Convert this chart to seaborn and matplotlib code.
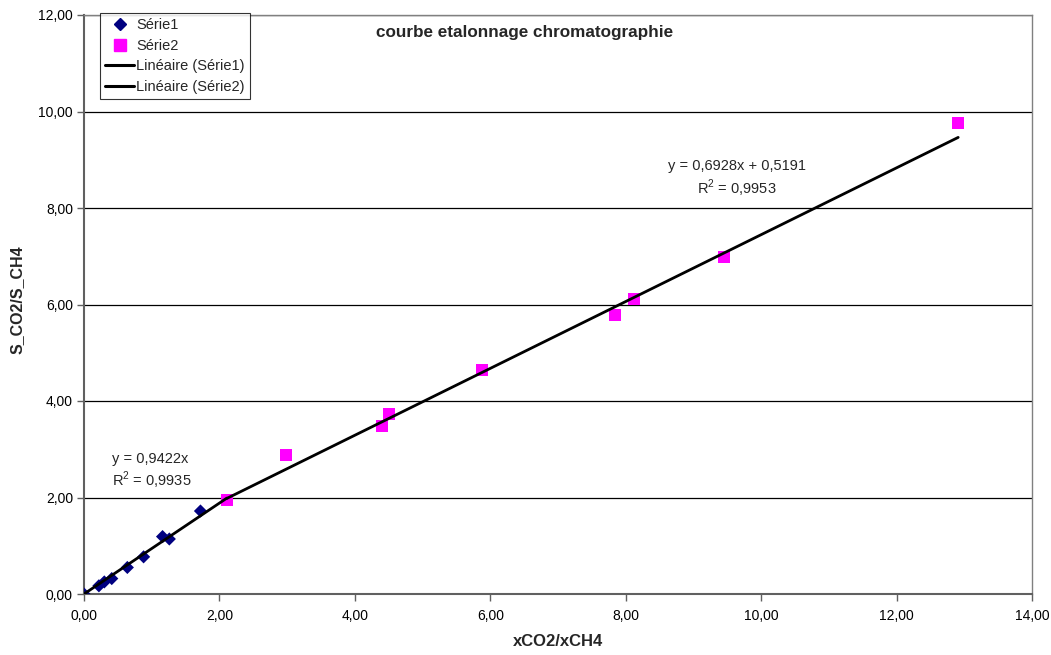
import numpy as np
import pandas as pd
import matplotlib
matplotlib.use("Agg")
import matplotlib.pyplot as plt
import seaborn as sns
from matplotlib.lines import Line2D
from matplotlib.ticker import FuncFormatter, MultipleLocator

# ---- data ----
serie1_x = [0.00, 0.22, 0.30, 0.41, 0.64, 0.88, 1.16, 1.26, 1.72]
serie1_y = [0.00, 0.17, 0.25, 0.32, 0.55, 0.77, 1.19, 1.14, 1.72]
serie2_x = [2.11, 2.98, 4.40, 4.50, 5.88, 7.84, 8.12, 9.45, 12.91]
serie2_y = [1.95, 2.88, 3.48, 3.73, 4.64, 5.78, 6.11, 6.98, 9.76]
fit1_slope, fit1_icpt = 0.9422, 0.0
fit2_slope, fit2_icpt = 0.6928, 0.5191
eq1_text = "y = 0,9422x\nR$^2$ = 0,9935"
eq2_text = "y = 0,6928x + 0,5191\nR$^2$ = 0,9953"
title = "courbe etalonnage chromatographie"
xlabel = "xCO2/xCH4"
ylabel = "S_CO2/S_CH4"
series_names = ["Série1", "Série2", "Linéaire (Série1)", "Linéaire (Série2)"]

sns.set_style("white")
plt.rcParams['font.family'] = ['Liberation Sans', 'DejaVu Sans']
plt.rcParams['mathtext.fontset'] = 'custom'
plt.rcParams['mathtext.rm'] = 'Liberation Sans'

fig = plt.figure(figsize=(10.51, 6.55), dpi=100)
ax = fig.add_axes([84/1051, 1-594/655, (1032-84)/1051, (594-15)/655])

df1 = pd.DataFrame({"x": serie1_x, "y": serie1_y})
df2 = pd.DataFrame({"x": serie2_x, "y": serie2_y})

# trend lines (Série1 trend line reaches the start of Série2)
x1 = np.array([min(serie1_x), min(serie2_x)])
x2 = np.array([min(serie2_x), max(serie2_x)])
ax.plot(x1, fit1_slope * x1 + fit1_icpt, color="black", lw=2.0, zorder=4)
ax.plot(x2, fit2_slope * x2 + fit2_icpt, color="black", lw=2.0, zorder=4)

sns.scatterplot(data=df1, x="x", y="y", ax=ax, marker="D", s=45,
                color="#000080", edgecolor="none", zorder=3, legend=False)
sns.scatterplot(data=df2, x="x", y="y", ax=ax, marker="s", s=75,
                color="#FF00FF", edgecolor="none", zorder=3, legend=False)

ax.set_xlim(0, 14)
ax.set_ylim(0, 12)
ax.xaxis.set_major_locator(MultipleLocator(2))
ax.yaxis.set_major_locator(MultipleLocator(2))
fmt = FuncFormatter(lambda v, p: f"{v:.2f}".replace(".", ","))
ax.xaxis.set_major_formatter(fmt)
ax.yaxis.set_major_formatter(fmt)
ax.grid(axis="y", color="black", lw=0.9)
ax.set_axisbelow(True)
for s in ["top", "right"]:
    ax.spines[s].set_color("#808080")
    ax.spines[s].set_linewidth(1.0)
for s in ["left", "bottom"]:
    ax.spines[s].set_color("#606060")
    ax.spines[s].set_linewidth(1.5)
ax.tick_params(axis="both", direction="out", length=5, width=1, color="#606060",
               labelsize=10, labelcolor="black", bottom=True, left=True)
ax.tick_params(axis="x", pad=6)
ax.tick_params(axis="y", pad=3)

ax.set_xlabel("")
ax.set_ylabel("")
fig.text(558/1051, 1 - 642/655, xlabel, ha="center", va="center",
         fontsize=12, fontweight="bold")
fig.text(17/1051, 1 - 300/655, ylabel, ha="center", va="center", rotation=90,
         fontsize=11.5, fontweight="bold")
ax.text(0.465, 0.97, title, transform=ax.transAxes, ha="center", va="center",
        fontsize=12.3, fontweight="bold")

ax.text(0.41, 2.54, eq1_text, fontsize=10.5, ha="left", va="center", linespacing=1.25)
ax.text(9.64, 8.6, eq2_text, fontsize=10.5, ha="center", va="center", linespacing=1.25)

handles = [
    Line2D([], [], marker="D", ls="none", color="#000080", markersize=6),
    Line2D([], [], marker="s", ls="none", color="#FF00FF", markersize=8),
    Line2D([], [], color="black", lw=2.2),
    Line2D([], [], color="black", lw=2.2),
]
leg = ax.legend(handles, series_names, loc="upper left",
                bbox_to_anchor=(16/948, 1 + 2/579), borderaxespad=0,
                fancybox=False, frameon=True, fontsize=10.5, handlelength=2.0,
                handletextpad=0.15, labelspacing=0.45, borderpad=0.35)
leg.get_frame().set_edgecolor("black")
leg.get_frame().set_linewidth(0.8)

fig.savefig("out.png", dpi=100)
